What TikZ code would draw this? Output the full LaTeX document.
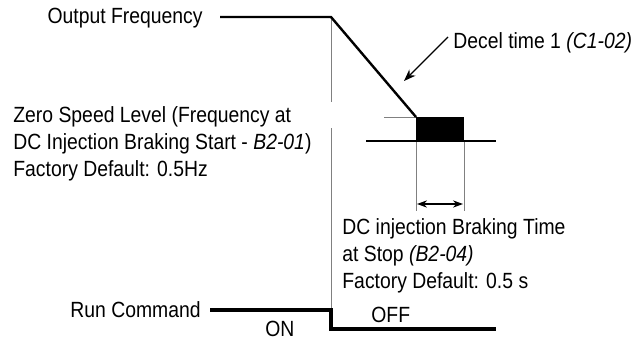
\documentclass[tikz,border=0pt]{standalone}
\usepackage{fontspec}
\setmainfont[FakeStretch=0.88]{Liberation Sans}
\usetikzlibrary{arrows.meta}
\begin{document}
\begin{tikzpicture}[x=0.5pt,y=-0.5pt,
  lbl/.style={anchor=base west,inner sep=0pt,font=\fontsize{11}{13.5}\selectfont},
  lblr/.style={anchor=base east,inner sep=0pt,font=\fontsize{11}{13.5}\selectfont},
  guide/.style={draw=black!50,line width=0.5pt},
  wave/.style={line width=1.2pt,line join=miter},
  run/.style={line width=1.6pt,line join=miter},
  axis/.style={line width=0.8pt},
  dim/.style={{Stealth[length=5pt,width=3.6pt]}-{Stealth[length=5pt,width=3.6pt]},line width=0.6pt},
  pointer/.style={-{Stealth[length=6pt,width=4.4pt]},line width=0.6pt}]
\useasboundingbox (0,0) rectangle (636,338);

% coordinates of the waveforms
\coordinate (f0) at (220,17);
\coordinate (f1) at (331,17);
\coordinate (f2) at (416,117);
\coordinate (g1) at (331,102);
\coordinate (g2) at (331,128);
\coordinate (r0) at (210,310);
\coordinate (r1) at (331,310);
\coordinate (r2) at (331,329);
\coordinate (r3) at (496,329);
\coordinate (zl) at (384,117);
\coordinate (a0) at (366,141);
\coordinate (a1) at (496,141);
\coordinate (b0) at (416,142);
\coordinate (b1) at (464,117);
\coordinate (b2) at (464,142);
\coordinate (d0) at (416,211);
\coordinate (d1) at (464,211);
\coordinate (t0) at (417,204);
\coordinate (t1) at (463,204);
\coordinate (p0) at (448,37);
\coordinate (p1) at (404,81);

% guide lines
\draw[guide] (f1) -- (g1);
\draw[guide] (g2) -- (r1);
\draw[guide] (zl) -- (f2);
\draw[guide] (b0) -- (d0);
\draw[guide] (b2) -- (d1);

% output frequency
\draw[wave] (f0) -- (f1) -- (f2);
\draw[axis] (a0) -- (a1);
\fill (f2) rectangle (b2);

% run command
\draw[run] (r0) -- (r1) -- (r2) -- (r3);

% arrows
\draw[dim] (t0) -- (t1);
\draw[pointer] (p0) -- (p1);

% labels
\node[lblr] (of) at (203,23) {Output Frequency};
\node[lbl] (dt) at (453,48) {Decel time 1 \textit{(C1-02)}};
\node[lbl] (z1) at (13,122.5) {Zero Speed Level (Frequency at};
\node[lbl] (z2) at (13,149.5) {DC Injection Braking Start - \textit{B2-01})};
\node[lbl] (z3) at (13,176.5) {Factory Default: 0.5Hz};
\node[lbl] (c1) at (342,234) {DC injection Braking Time};
\node[lbl] (c2) at (342,261) {at Stop \textit{(B2-04)}};
\node[lbl] (c3) at (342,288) {Factory Default: 0.5 s};
\node[lblr] (rc) at (201,317.5) {Run Command};
\node[lbl] (on) at (265,336) {ON};
\node[lbl] (off) at (371,322) {OFF};
\end{tikzpicture}
\end{document}
